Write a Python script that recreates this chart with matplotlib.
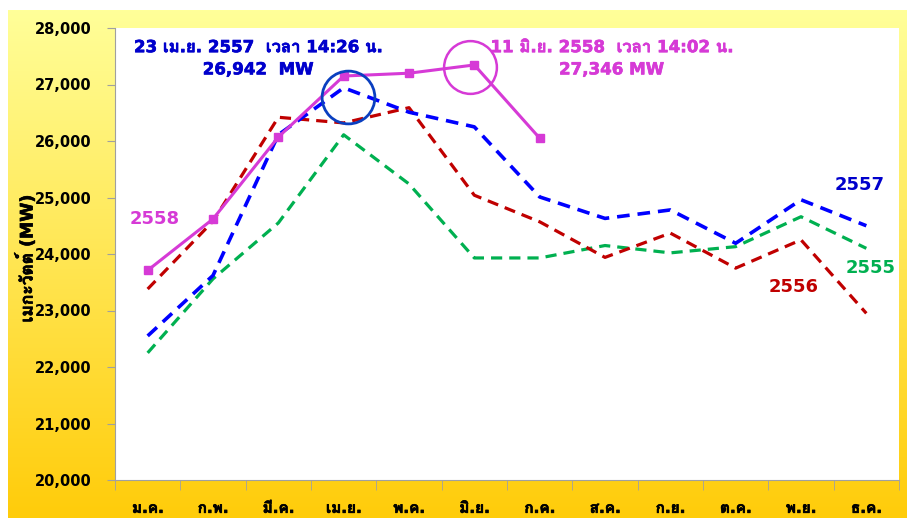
import matplotlib
matplotlib.use("Agg")
import matplotlib.pyplot as plt
import matplotlib.patheffects as pe
import numpy as np
from matplotlib import font_manager
from matplotlib.ft2font import FT2Font

# look for a font that has Thai glyphs (DejaVu has none)
thai_font = None
for f in font_manager.fontManager.ttflist:
    try:
        if 0x0E01 in FT2Font(f.fname).get_charmap():
            thai_font = f.name
            if f.weight in ("bold", 700):
                break
    except Exception:
        pass
fams = ["DejaVu Sans"] + ([thai_font] if thai_font else [])
plt.rcParams["font.family"] = fams

months = ["ม.ค.", "ก.พ.", "มี.ค.", "เม.ย.", "พ.ค.", "มิ.ย.",
          "ก.ค.", "ส.ค.", "ก.ย.", "ต.ค.", "พ.ย.", "ธ.ค."]
y2555 = [22250, 23560, 24550, 26110, 25240, 23930, 23930, 24150, 24020, 24130, 24660, 24100]
y2556 = [23380, 24580, 26420, 26320, 26590, 25040, 24570, 23940, 24370, 23750, 24250, 22950]
y2557 = [22550, 23620, 26110, 26942, 26510, 26250, 25010, 24630, 24780, 24190, 24960, 24500]
y2558 = [23710, 24620, 26070, 27150, 27200, 27346, 26050]
yticks = np.arange(20000, 28001, 1000)

x = np.arange(len(months))

fig = plt.figure(figsize=(9.07, 5.18), dpi=100)
fig.patch.set_facecolor("white")

# gradient background
bg = fig.add_axes([8/907, 0, 899/907, 508/518])
grad = np.linspace(0, 1, 256).reshape(-1, 1)
top = np.array([255, 255, 153]) / 255
bot = np.array([255, 204, 10]) / 255
img = top + (bot - top) * grad[:, :, None]
bg.imshow(img, aspect="auto", extent=[0, 1, 0, 1])
bg.axis("off")

ax = fig.add_axes([115/907, 38/518, 784/907, 452/518])
ax.set_facecolor("white")
ax.set_xlim(-0.5, 11.5)
ax.set_ylim(20000, 28000)

ax.plot(x, y2555, color="#00B050", lw=2.3, ls=(0, (3.5, 2.2)))
ax.plot(x, y2556, color="#C00000", lw=2.3, ls=(0, (3.5, 2.2)))
ax.plot(x, y2557, color="#0000FF", lw=2.6, ls=(0, (3.5, 2.2)))
ax.plot(x[:len(y2558)], y2558, color="#D63AD6", lw=2.2, marker="s", ms=6)

# peak circles
ax.plot(3.07, y2557[3] - 170, marker="o", ms=38, mfc="none", mec="#0A3FC0", mew=2)
ax.plot(4.93, y2558[5] - 30, marker="o", ms=38, mfc="none", mec="#D63AD6", mew=1.8)

# thai glyphs have no bold face, thicken them a little
def thick(c):
    return [pe.withStroke(linewidth=0.45, foreground=c)]

ax.text(1.69, 27820, "23 เม.ย. 2557  เวลา 14:26 น.\n26,942  MW", color="#0000CC",
        fontsize=12, fontweight="bold", ha="center", va="top", linespacing=1.3,
        path_effects=thick("#0000CC"))
ax.text(7.1, 27820, "11 มิ.ย. 2558  เวลา 14:02 น.\n27,346 MW", color="#D63AD6",
        fontsize=12, fontweight="bold", ha="center", va="top", linespacing=1.3,
        path_effects=thick("#D63AD6"))

ax.text(0.1, 24620, "2558", color="#D63AD6", fontsize=13, fontweight="bold", ha="center", va="center")
ax.text(10.9, 25220, "2557", color="#0000CC", fontsize=13, fontweight="bold", ha="center", va="center")
ax.text(11.06, 23750, "2555", color="#00B050", fontsize=13, fontweight="bold", ha="center", va="center")
ax.text(9.88, 23420, "2556", color="#C00000", fontsize=13, fontweight="bold", ha="center", va="center")

ax.set_yticks(yticks)
ax.set_yticklabels([f"{v:,}" for v in yticks], fontsize=10.5, fontweight="bold")
ax.set_xticks(x)
ax.set_xticklabels(months, fontsize=11, fontweight="bold")
for t in ax.get_xticklabels():
    t.set_path_effects(thick("black"))
ax.set_xticks(np.arange(-0.5, 12, 1), minor=True)
ax.tick_params(axis="x", which="major", length=0, pad=15)
ax.tick_params(axis="x", which="minor", length=7, color="#A0A0A0")
ax.tick_params(axis="y", length=6, color="#A0A0A0", pad=11)
for s in ["top", "right"]:
    ax.spines[s].set_visible(False)
for s in ["left", "bottom"]:
    ax.spines[s].set_color("#A0A0A0")
ax.set_ylabel("เมกะวัตต์ (MW)", fontsize=12.5, fontweight="bold",
              path_effects=thick("black"))
ax.yaxis.set_label_coords(-0.1, 0.49)

fig.savefig("out.png", dpi=100)
